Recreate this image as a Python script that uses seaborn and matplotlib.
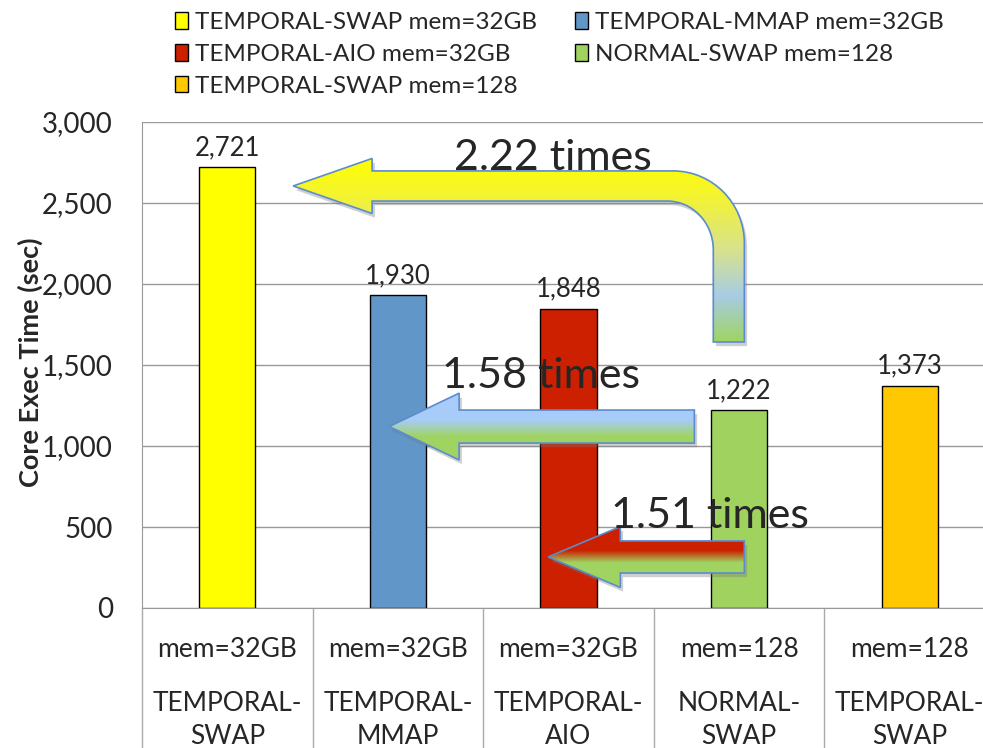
import numpy as np
import pandas as pd
import matplotlib
matplotlib.use('Agg')
import matplotlib.pyplot as plt
import seaborn as sns
import matplotlib.patheffects as pe
from matplotlib.path import Path
from matplotlib.patches import PathPatch, Patch
from matplotlib.colors import LinearSegmentedColormap
from matplotlib.ticker import FuncFormatter, MultipleLocator

# chart data
methods = ['TEMPORAL-SWAP', 'TEMPORAL-MMAP', 'TEMPORAL-AIO', 'NORMAL-SWAP', 'TEMPORAL-SWAP']
mems = ['mem=32GB', 'mem=32GB', 'mem=32GB', 'mem=128', 'mem=128']
exec_time = [2721, 1930, 1848, 1222, 1373]
bar_colors = ['#FFFF00', '#6096C8', '#CC2000', '#A0D260', '#FFC800']
series = [m + ' ' + k for m, k in zip(methods, mems)]

# speed-up notes
speedup_text = ['2.22 times', '1.58 times', '1.51 times']

sns.set_style('white')
plt.rcParams['font.family'] = ['Lato', 'DejaVu Sans']

df = pd.DataFrame({'series': series, 'time': exec_time})

fig = plt.figure(figsize=(9.83, 7.48), dpi=100)
ax = fig.add_axes([142 / 983, 1 - 608 / 748, 841 / 983, 486 / 748])

sns.barplot(data=df, x='series', y='time', hue='series', order=series, hue_order=series,
            palette=bar_colors, saturation=1, width=0.33, edgecolor='black', linewidth=1,
            legend=False, ax=ax, zorder=2)

for cont in ax.containers:
    ax.bar_label(cont, labels=[f'{int(b.get_height()):,}' for b in cont], padding=5,
                 fontsize=18.5, zorder=7)

# axes styling
ax.set_ylim(0, 3000)
ax.set_xlim(-0.5, 4.43)
ax.yaxis.set_major_locator(MultipleLocator(500))
ax.yaxis.set_major_formatter(FuncFormatter(lambda v, p: f'{int(v):,}'))
ax.tick_params(axis='y', labelsize=20, length=0, pad=21)
ax.tick_params(axis='x', length=0, labelbottom=False)
ax.grid(axis='y', color='#999999', lw=1)
ax.set_axisbelow(True)
for s in ['top', 'right']:
    ax.spines[s].set_visible(False)
ax.spines['left'].set_color('#999999')
ax.spines['bottom'].set_color('#999999')
ax.set_xlabel('')
ax.set_ylabel('Core Exec Time (sec)', fontsize=19.5, fontweight='bold')
ax.yaxis.set_label_coords(-0.118, 0.506)

# two-row category table under the axis
trans = ax.get_xaxis_transform()
for i in range(len(series) + 1):
    ax.plot([i - 0.5, i - 0.5], [0, -0.3], color='#AAAAAA', lw=1, transform=trans, clip_on=False)
for i in range(len(series)):
    first, second = methods[i].split('-')
    ax.text(i, -0.1008, mems[i], ha='center', va='baseline', fontsize=19, transform=trans)
    ax.text(i, -0.212, first + '-', ha='center', va='baseline', fontsize=19, transform=trans)
    ax.text(i, -0.279, second, ha='center', va='baseline', fontsize=19, transform=trans)

# legend
handles = [Patch(facecolor=c, edgecolor='black', lw=1) for c in bar_colors]
order = [0, 2, 4, 1, 3]
fig.legend([handles[i] for i in order], [series[i] for i in order], ncol=2,
           loc='upper left', bbox_to_anchor=(175 / 983, 1 - 12 / 748), frameon=False,
           fontsize=17.5, handlelength=0.55, handleheight=0.65, handletextpad=0.27,
           labelspacing=0.45, columnspacing=1.55, borderpad=0, borderaxespad=0)


# gradient arrows
def gradient_arrow(verts, codes, colors, zo=4):
    path = Path(verts, codes)
    shadow = PathPatch(path, facecolor='white', edgecolor='none', zorder=zo - 1,
                       path_effects=[pe.SimplePatchShadow(offset=(2, -3), shadow_rgbFace='#777777', alpha=0.35)])
    ax.add_patch(shadow)
    edge = PathPatch(path, facecolor='none', edgecolor='#5B8CD0', lw=1.2, zorder=zo + 1)
    ax.add_patch(edge)
    xs = [v[0] for v in verts]
    ys = [v[1] for v in verts]
    cmap = LinearSegmentedColormap.from_list('g', colors)
    grad = np.linspace(0, 1, 256).reshape(-1, 1)
    im = ax.imshow(grad, cmap=cmap, origin='lower', aspect='auto',
                   extent=[min(xs), max(xs), min(ys), max(ys)], zorder=zo)
    im.set_clip_path(edge)


def left_arrow(tip_x, base_x, tail_x, yc, shaft_h, head_h):
    verts = [(tip_x, yc), (base_x, yc + head_h), (base_x, yc + shaft_h), (tail_x, yc + shaft_h),
             (tail_x, yc - shaft_h), (base_x, yc - shaft_h), (base_x, yc - head_h), (tip_x, yc)]
    codes = [Path.MOVETO] + [Path.LINETO] * 6 + [Path.CLOSEPOLY]
    return verts, codes


k = 0.552
# bent arrow from NORMAL-SWAP up and back to TEMPORAL-SWAP 32GB
tip_x, base_x, yc, sh, hh = 0.386, 0.849, 2605, 93, 170
xo, xi, y_bot = 3.031, 2.849, 1642
orx, ory, irx, iry = 0.417, 445, 0.27, 302
bent_verts = [
    (tip_x, yc), (base_x, yc + hh), (base_x, yc + sh), (xo - orx, yc + sh),
    (xo - orx + k * orx, yc + sh), (xo, yc + sh - ory + k * ory), (xo, yc + sh - ory),
    (xo, y_bot), (xi, y_bot), (xi, yc - sh - iry),
    (xi, yc - sh - iry + k * iry), (xi - irx + k * irx, yc - sh), (xi - irx, yc - sh),
    (base_x, yc - sh), (base_x, yc - hh), (tip_x, yc)]
bent_codes = ([Path.MOVETO] + [Path.LINETO] * 3 + [Path.CURVE4] * 3 + [Path.LINETO] * 3
              + [Path.CURVE4] * 3 + [Path.LINETO] * 2 + [Path.CLOSEPOLY])
gradient_arrow(bent_verts, bent_codes,
               [(0, '#A0D462'), (0.25, '#A8CCE4'), (0.5, '#D8E28E'), (0.8, '#F4F430'), (1, '#FFFF00')])

v2, c2 = left_arrow(0.949, 1.359, 2.738, 1120, 102, 206)
gradient_arrow(v2, c2, [(0, '#A0D462'), (0.35, '#A0D462'), (0.6, '#A8CCF8'), (1, '#A8CCFF')])

v3, c3 = left_arrow(1.881, 2.304, 3.031, 315, 99, 188)
gradient_arrow(v3, c3, [(0, '#A0D462'), (0.4, '#A0D462'), (0.6, '#CC2000'), (1, '#CC2000')])

ax.text(1.91, 2704, speedup_text[0], ha='center', va='baseline', fontsize=31, zorder=8)
ax.text(1.84, 1358, speedup_text[1], ha='center', va='baseline', fontsize=31, zorder=8)
ax.text(2.83, 494, speedup_text[2], ha='center', va='baseline', fontsize=31, zorder=8)

ax.set_ylim(0, 3000)
ax.set_xlim(-0.5, 4.43)

fig.savefig('out.png', dpi=100)
